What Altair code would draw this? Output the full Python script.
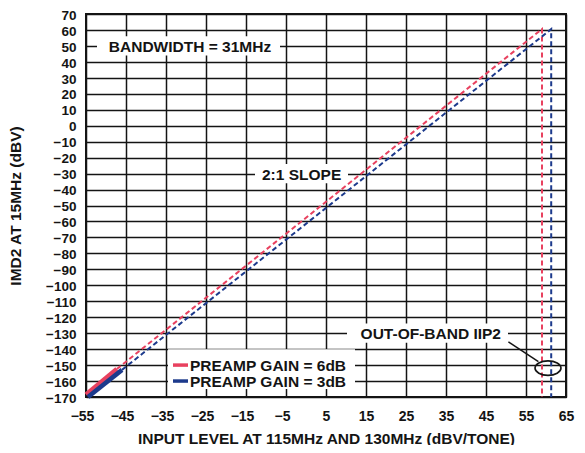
import altair as alt
import pandas as pd

# ---- data ----
red_solid_x = [-55.0, -47.3]
red_solid_y = [-168.5, -152.5]
red_dash_x = [-47.3, 59.0, 59.0]
red_dash_y = [-152.5, 60.6, -170.0]

blue_solid_x = [-54.5, -46.0]
blue_solid_y = [-170.0, -153.0]
blue_dash_x = [-46.0, 61.3, 61.3]
blue_dash_y = [-153.0, 60.5, -170.0]

x_ticks = [-55, -45, -35, -25, -15, -5, 5, 15, 25, 35, 45, 55, 65]
y_ticks = list(range(-170, 71, 10))

annot_text = ["BANDWIDTH = 31MHz", "2:1 SLOPE", "OUT-OF-BAND IIP2"]
annot_x = [-29.0, -1.1, 31.2]
annot_y = [50, -30, -130]
box_x1 = [-52.25, -12.75, 10.25]
box_x2 = [-6.5, 10.5, 50.5]
box_y1 = [44, -36, -136]
box_y2 = [56, -24, -124]

legend_labels = ["PREAMP GAIN = 6dB", "PREAMP GAIN = 3dB"]
legend_y = [-150, -160]
legend_colors = ["#E8415F", "#1C3A8C"]
legend_box = {"x1": [-34.5], "x2": [12.25], "y1": [-165], "y2": [-140]}

leader = {"x1": [50.6], "y1": [-135.4], "x2": [58.1], "y2": [-147.9]}
ellipse = {"x": [60.5], "y": [-151.9]}

RED, BLUE = legend_colors
FONT = "Liberation Sans"
INK = "#141414"

xs = alt.Scale(domain=[-55, 65], nice=False, zero=False)
ys = alt.Scale(domain=[-170, 70], nice=False, zero=False)

xaxis = alt.Axis(
    values=x_ticks, grid=True, gridColor=INK, gridWidth=1.5, ticks=False,
    domain=False, labelFont=FONT, labelFontWeight="bold", labelFontSize=14,
    labelColor=INK, labelPadding=12, labelFlush=False,
    labelOffset={"condition": {"test": "datum.value < 0", "value": -4}, "value": 0},
    title="INPUT LEVEL AT 115MHz AND 130MHz (dBV/TONE)", titleFont=FONT,
    titleFontWeight="bold", titleFontSize=15.5, titleColor=INK,
    titleX=240, titleY=46, titleBaseline="alphabetic", titleAnchor="middle",
)
yaxis = alt.Axis(
    values=y_ticks, grid=True, gridColor=INK, gridWidth=1.5, ticks=False,
    domain=False, labelFont=FONT, labelFontWeight="bold", labelFontSize=13.5,
    labelColor=INK, labelPadding=10, labelFlush=False, labelOffset=1.2,
    title="IMD2 AT 15MHz (dBV)", titleFont=FONT, titleFontWeight="bold",
    titleFontSize=15.5, titleColor=INK, titleX=-71, titleY=191.5,
    titleBaseline="middle", titleAnchor="middle", titleAngle=270,
)


def X(f):
    return alt.X(f"{f}:Q", scale=xs, axis=xaxis)


def Y(f):
    return alt.Y(f"{f}:Q", scale=ys, axis=yaxis)


def series(name, xv, yv):
    return pd.DataFrame({"x": xv, "y": yv, "s": name, "o": list(range(len(xv)))})


solid_df = pd.concat([
    series("red", red_solid_x, red_solid_y),
    series("blue", blue_solid_x, blue_solid_y),
])
dash_df = pd.concat([
    series("red", red_dash_x, red_dash_y),
    series("blue", blue_dash_x, blue_dash_y),
])
color = alt.Color("s:N", scale=alt.Scale(domain=["red", "blue"], range=[RED, BLUE]), legend=None)

boxes_df = pd.DataFrame({"x": box_x1 + legend_box["x1"], "x2": box_x2 + legend_box["x2"],
                         "y": box_y1 + legend_box["y1"], "y2": box_y2 + legend_box["y2"]})
annot_df = pd.DataFrame({"x": annot_x, "y": annot_y, "t": annot_text})
leg_df = pd.DataFrame({"x": [-33.25, -33.25], "x2": [-29.5, -29.5], "y": legend_y,
                       "tx": [-29.0, -29.0], "t": legend_labels, "c": legend_colors})

boxes = alt.Chart(boxes_df).mark_rect(fill="white", stroke=None).encode(
    x=X("x"), x2="x2", y=Y("y"), y2="y2")

dashed = alt.Chart(dash_df).mark_line(strokeWidth=2, strokeDash=[5, 3]).encode(
    x=X("x"), y=Y("y"), color=color, detail="s:N", order="o:Q")

solid = alt.Chart(solid_df).mark_line(strokeWidth=4.5, strokeCap="butt").encode(
    x=X("x"), y=Y("y"), color=color, detail="s:N", order="o:Q")

annots = alt.Chart(annot_df).mark_text(
    font=FONT, fontWeight="bold", fontSize=15.5, color=INK, align="center", baseline="middle", dy=1
).encode(x=X("x"), y=Y("y"), text="t:N")

swatches = alt.Chart(leg_df).mark_rule(strokeWidth=3.5).encode(
    x=X("x"), x2="x2", y=Y("y"), color=alt.Color("c:N", scale=None))

leg_text = alt.Chart(leg_df).mark_text(
    font=FONT, fontWeight="bold", fontSize=15.5, color=INK, align="left", baseline="middle", dy=1
).encode(x=X("tx"), y=Y("y"), text="t:N")

lead = alt.Chart(pd.DataFrame(leader)).mark_rule(strokeWidth=1.5, color=INK).encode(
    x=X("x1"), y=Y("y1"), x2="x2", y2="y2")

ell = alt.Chart(pd.DataFrame(ellipse)).mark_point(
    shape="M -1 0 A 1 0.56 0 1 0 1 0 A 1 0.56 0 1 0 -1 0 Z",
    size=676, filled=False, stroke=INK, strokeWidth=1.6, opacity=1,
).encode(x=X("x"), y=Y("y"))

chart = alt.layer(boxes, dashed, solid, annots, swatches, leg_text, lead, ell).properties(
    width=480, height=383,
    autosize=alt.AutoSizeParams(type="none"),
    padding={"left": 78, "top": 6, "right": 11, "bottom": 48},
    background="white",
).configure_view(stroke=INK, strokeWidth=2)

chart.save("out.html", embed_options={"renderer": "svg", "actions": False})
